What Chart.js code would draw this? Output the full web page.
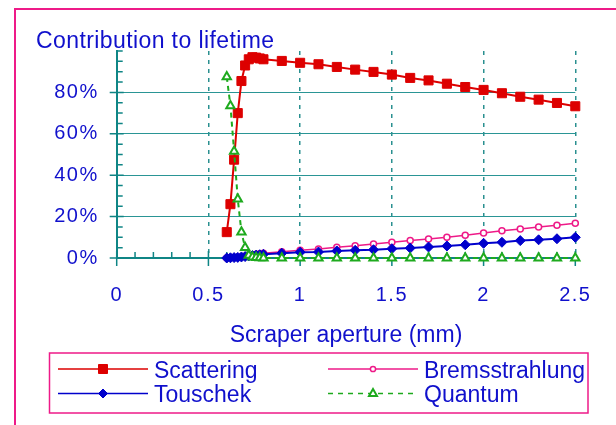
<!DOCTYPE html>
<html>
<head>
<meta charset="utf-8">
<script src="https://cdn.jsdelivr.net/npm/chart.js@4"></script>
<style>
  html, body { margin: 0; padding: 0; background: #fff; }
  #wrap { position: relative; width: 616px; height: 425px; }
</style>
</head>
<body>
<div id="wrap"><canvas id="lifetimeChart"></canvas></div>
<script>
// scraper aperture (mm) and share of each loss process (%)
const aperture   = [0.6, 0.62, 0.64, 0.66, 0.68, 0.7, 0.72, 0.74, 0.76, 0.78, 0.8, 0.9, 1.0, 1.1, 1.2, 1.3, 1.4, 1.5, 1.6, 1.7, 1.8, 1.9, 2.0, 2.1, 2.2, 2.3, 2.4, 2.5];
const scattering = [12.5, 26, 47.5, 70, 85.5, 93, 96, 97, 96.8, 96.4, 96, 95.2, 94.3, 93.6, 92.3, 91.0, 89.9, 88.6, 87.0, 85.8, 84.2, 82.6, 81.2, 79.6, 77.9, 76.5, 74.9, 73.3];
const bremsstr   = [0, 0.1, 0.2, 0.4, 0.6, 0.9, 1.2, 1.5, 1.8, 2.0, 2.3, 3.0, 3.7, 4.3, 5.2, 5.9, 6.8, 7.6, 8.4, 9.2, 10.0, 11.0, 12.1, 13.2, 14.0, 15.0, 15.8, 16.8];
const touschek   = [0, 0.1, 0.2, 0.3, 0.5, 0.7, 1.0, 1.2, 1.4, 1.6, 1.8, 2.3, 2.8, 2.9, 3.4, 3.7, 4.0, 4.5, 4.8, 5.3, 5.8, 6.4, 7.1, 7.6, 8.4, 8.8, 9.3, 10.0];
const quantum    = [87.5, 73.5, 51.5, 28.5, 12.5, 5, 1.3, 0.4, 0.2, 0.1, 0, 0, 0, 0, 0, 0, 0, 0, 0, 0, 0, 0, 0, 0, 0, 0, 0, 0];

const TEXT_BLUE = '#1010cc';
const TEAL = '#0f8585';
const PINK = '#ee1a88';
const RED = '#dd0000';
const BLUE = '#0000cc';
const GREEN = '#1eaa1e';
const FONT = '"Liberation Sans", Arial, sans-serif';

const pts = vals => aperture.map((x, i) => ({ x, y: vals[i] }));

// legend marker, same shapes as the chart points
function drawMarker(ctx, ds, x, y) {
    ctx.save();
    ctx.setLineDash([]);
    ctx.lineWidth = ds.pointBorderWidth;
    ctx.strokeStyle = ds.borderColor;
    ctx.fillStyle = ds.pointBackgroundColor;
    ctx.beginPath();
    if (ds.pointStyle === 'rect') {
        ctx.rect(x - 4.5, y - 4.5, 9, 9);
    } else if (ds.pointStyle === 'rectRot') {
        ctx.moveTo(x - 4.5, y); ctx.lineTo(x, y - 4.5);
        ctx.lineTo(x + 4.5, y); ctx.lineTo(x, y + 4.5);
        ctx.closePath();
    } else if (ds.pointStyle === 'circle') {
        ctx.arc(x, y, 2.6, 0, Math.PI * 2);
    } else if (ds.pointStyle === 'triangle') {
        ctx.moveTo(x, y - 4.5); ctx.lineTo(x + 4, y + 2.5); ctx.lineTo(x - 4, y + 2.5);
        ctx.closePath();
    }
    ctx.fill();
    ctx.stroke();
    ctx.restore();
}

const decorations = {
    id: 'decorations',
    beforeDraw(chart) {
        const ctx = chart.ctx;
        ctx.save();
        ctx.strokeStyle = PINK;
        ctx.lineWidth = 2;
        ctx.strokeRect(15, 9, 700, 600);
        ctx.restore();
        // wider tick labels
        ctx.letterSpacing = '1.5px';
    },
    beforeDatasetsDraw(chart) {
        const ctx = chart.ctx;
        ctx.letterSpacing = '0px';
        const xs = chart.scales.x, ys = chart.scales.y;
        const left = chart.chartArea.left, bottom = chart.chartArea.bottom;
        ctx.save();
        ctx.strokeStyle = TEAL;
        ctx.lineWidth = 1.5;
        ctx.beginPath();
        for (let v = 0; v <= 100; v += 5) {
            const py = ys.getPixelForValue(v);
            if (v % 20 === 0 && v < 100) {
                ctx.moveTo(left - 7, py); ctx.lineTo(left + 7, py);
            } else {
                ctx.moveTo(left, py); ctx.lineTo(left + 6, py);
            }
        }
        for (let i = 0; i <= 25; i++) {
            const px = xs.getPixelForValue(i / 10);
            if (i % 5 === 0) {
                ctx.moveTo(px, bottom - 7); ctx.lineTo(px, bottom + 8);
            } else {
                ctx.moveTo(px, bottom); ctx.lineTo(px, bottom - 6);
            }
        }
        ctx.stroke();

        ctx.fillStyle = TEXT_BLUE;
        ctx.font = '23px ' + FONT;
        ctx.textBaseline = 'alphabetic';
        ctx.textAlign = 'left';
        ctx.letterSpacing = '0.4px';
        ctx.fillText('Contribution to lifetime', 36, 48);
        ctx.letterSpacing = '0px';
        ctx.textAlign = 'center';
        ctx.fillText('Scraper aperture (mm)', (chart.chartArea.left + chart.chartArea.right) / 2, 341.5);
        ctx.restore();
    },
    afterDraw(chart) {
        const ctx = chart.ctx;
        ctx.save();
        ctx.strokeStyle = PINK;
        ctx.lineWidth = 1.5;
        ctx.strokeRect(49.5, 353, 538.5, 60);
        const colX = [58, 328];
        const rowY = [369, 393.5];
        ctx.font = '23px ' + FONT;
        ctx.textAlign = 'left';
        ctx.textBaseline = 'alphabetic';
        chart.data.datasets.forEach((ds, i) => {
            const x0 = colX[i % 2], y0 = rowY[Math.floor(i / 2)];
            ctx.save();
            ctx.strokeStyle = ds.borderColor;
            ctx.lineWidth = 1.5;
            ctx.setLineDash(ds.borderDash ? [5, 5] : []);
            ctx.beginPath();
            ctx.moveTo(x0, y0); ctx.lineTo(x0 + 90, y0);
            ctx.stroke();
            ctx.restore();
            drawMarker(ctx, ds, x0 + 45, y0);
            ctx.fillStyle = TEXT_BLUE;
            ctx.fillText(ds.label, x0 + 96, y0 + 8.5);
        });
        ctx.restore();
    }
};

new Chart(document.getElementById('lifetimeChart'), {
    type: 'line',
    data: {
        datasets: [
            { label: 'Scattering', data: pts(scattering), order: 1,
              borderColor: RED, backgroundColor: RED, borderWidth: 2,
              pointStyle: 'rect', pointRadius: 6.4, pointBorderWidth: 1,
              pointBackgroundColor: RED },
            { label: 'Bremsstrahlung', data: pts(bremsstr), order: 3,
              borderColor: PINK, backgroundColor: PINK, borderWidth: 1.5,
              pointStyle: 'circle', pointRadius: 3, pointBorderWidth: 1.5,
              pointBackgroundColor: '#ffffff' },
            { label: 'Touschek', data: pts(touschek), order: 2,
              borderColor: BLUE, backgroundColor: BLUE, borderWidth: 2,
              pointStyle: 'rectRot', pointRadius: 5, pointBorderWidth: 1,
              pointBackgroundColor: BLUE },
            { label: 'Quantum', data: pts(quantum), order: 0,
              borderColor: GREEN, backgroundColor: GREEN, borderWidth: 2,
              borderDash: [5, 4],
              pointStyle: 'triangle', pointRadius: 4.8, pointBorderWidth: 2,
              pointBackgroundColor: '#ffffff' }
        ].map(ds => Object.assign(ds, { tension: 0, clip: false, fill: false }))
    },
    options: {
        responsive: true,
        maintainAspectRatio: false,
        animation: false,
        events: [],
        layout: { padding: { left: 0, right: 40.7, top: 51, bottom: 0 } },
        plugins: { legend: { display: false }, tooltip: { enabled: false } },
        scales: {
            x: {
                type: 'linear',
                min: 0,
                max: 2.5,
                afterFit: s => { s.height = 167; },
                ticks: {
                    stepSize: 0.5,
                    autoSkip: false,
                    maxRotation: 0,
                    padding: 25,
                    color: TEXT_BLUE,
                    font: { family: FONT, size: 20 },
                    callback: v => String(Number(v.toFixed(1)))
                },
                grid: {
                    drawTicks: false,
                    lineWidth: 1.5,
                    color: c => c.tick && c.tick.value === 0 ? 'rgba(0,0,0,0)' : '#2a9090'
                },
                border: { display: true, color: TEAL, width: 2, dash: [4, 5] }
            },
            y: {
                min: 0,
                max: 100,
                afterFit: s => { s.width = 116.7; },
                ticks: {
                    stepSize: 20,
                    padding: 18,
                    color: TEXT_BLUE,
                    font: { family: FONT, size: 20 },
                    callback: v => v === 100 ? '' : v + '%'
                },
                grid: {
                    drawTicks: false,
                    lineWidth: 1,
                    color: c => c.tick && (c.tick.value === 0 || c.tick.value === 100) ? 'rgba(0,0,0,0)' : '#2a9595'
                },
                border: { display: true, color: TEAL, width: 2 }
            }
        }
    },
    plugins: [decorations]
});
</script>
</body>
</html>
